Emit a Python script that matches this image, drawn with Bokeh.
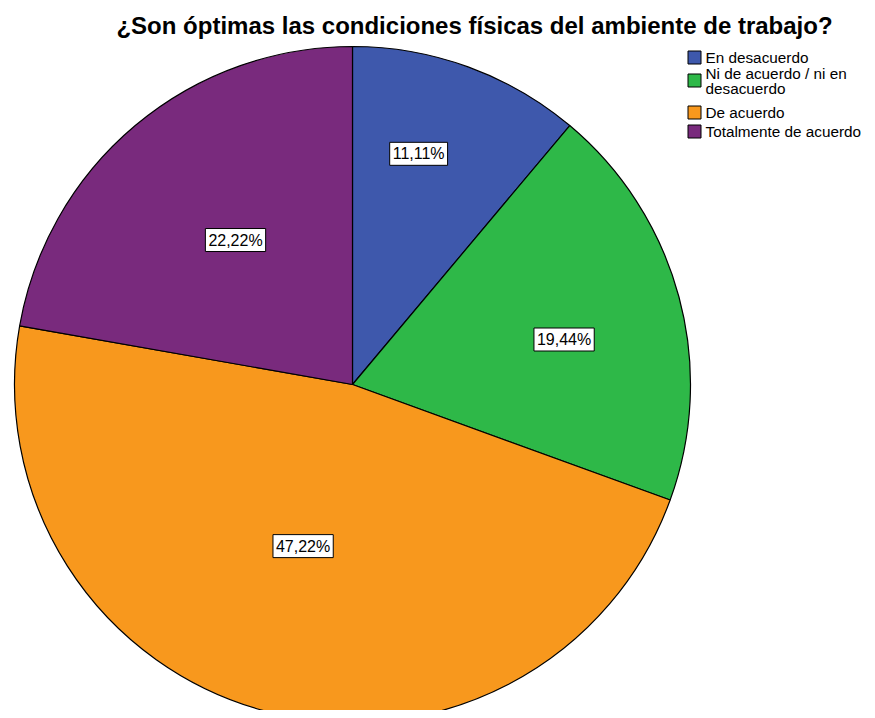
import math
from bokeh.plotting import figure
from bokeh.models import Range1d, ColumnDataSource
from bokeh.core.properties import value
from bokeh.embed import file_html
from bokeh.resources import INLINE

title = "¿Son óptimas las condiciones físicas del ambiente de trabajo?"
categories = ["En desacuerdo", "Ni de acuerdo / ni en desacuerdo", "De acuerdo", "Totalmente de acuerdo"]
legend_lines = [["En desacuerdo"], ["Ni de acuerdo / ni en", "desacuerdo"], ["De acuerdo"], ["Totalmente de acuerdo"]]
percents = [11.11, 19.44, 47.22, 22.22]
labels = ["11,11%", "19,44%", "47,22%", "22,22%"]
colors = ["#3E58AC", "#2EB848", "#F8981D", "#792A7D"]

# layout (page pixel coordinates; y measured downward from page top)
W, H = 867, 710
OFF = 0
cx, cy_page, R = 352, 384, 338
label_frac = [0.71, 0.64, 0.50, 0.55]
label_shift = [4, -3, -2, -1]  # degrees

def py(y_page):
    return H - (y_page - OFF)

p = figure(width=W, height=H, output_backend="svg", toolbar_location=None,
           x_range=Range1d(OFF, OFF + W), y_range=Range1d(0, H),
           min_border=0, outline_line_color=None)
p.axis.visible = False
p.grid.visible = False
p.background_fill_color = "white"
p.border_fill_color = "white"

total = sum(percents)
starts, ends, lx, ly = [], [], [], []
cum = 0.0
for i, v in enumerate(percents):
    a0 = math.pi / 2 - 2 * math.pi * cum / total
    cum += v
    a1 = math.pi / 2 - 2 * math.pi * cum / total
    starts.append(a0)
    ends.append(a1)
    mid = (a0 + a1) / 2 + math.radians(label_shift[i])
    lx.append(cx + label_frac[i] * R * math.cos(mid))
    ly.append(py(cy_page) + label_frac[i] * R * math.sin(mid))

src = ColumnDataSource(dict(start=starts, end=ends, color=colors))
p.wedge(x=cx, y=py(cy_page), radius=R, start_angle="start", end_angle="end",
        direction="clock", fill_color="color", line_color="black", line_width=1.2, source=src)

p.text(x=lx, y=ly, text=labels, text_font=value("Liberation Sans"), text_font_size="16px",
       text_align="center", text_baseline="middle", text_color="black",
       background_fill_color="white", border_line_color="black", border_line_width=1,
       padding=3)

# title
p.text(x=[474], y=[py(25)], text=[title], text_font=value("Liberation Sans"),
       text_font_size="24px", text_font_style="bold", text_align="center",
       text_baseline="middle", text_color="black")

# legend
sq_x = 694
entry_y = [57, 80, 112, 131]
for i, lines in enumerate(legend_lines):
    n = len(lines)
    yc = entry_y[i]
    p.rect(x=[sq_x], y=[py(yc)], width=13, height=13, width_units="screen", height_units="screen",
           fill_color=colors[i], line_color="black", line_width=1)
    for j, t in enumerate(lines):
        yy = yc - (n - 1) * 7.5 + j * 15
        p.text(x=[705], y=[py(yy)], text=[t], text_font=value("Liberation Sans"),
               text_font_size="15.3px", text_align="left", text_baseline="middle", text_color="black")

open("out.html", "w").write(file_html(p, INLINE))
